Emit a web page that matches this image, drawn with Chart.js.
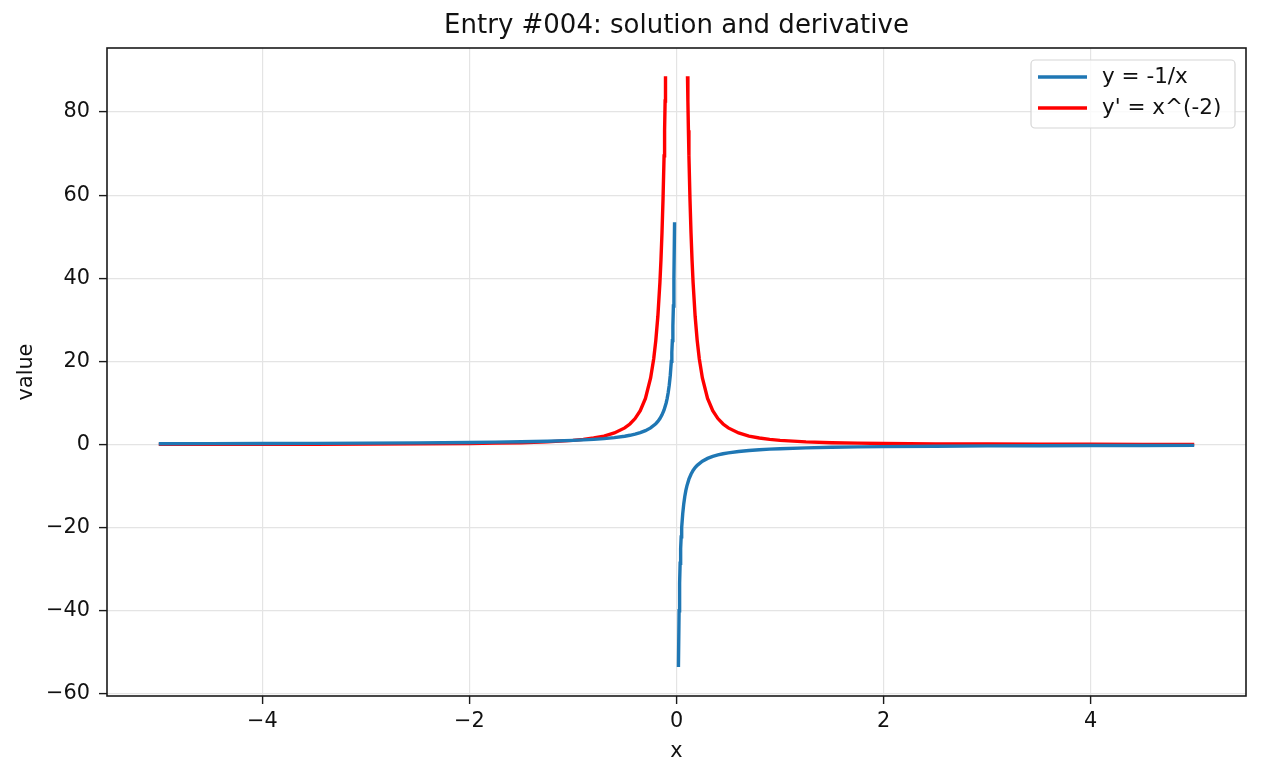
<!DOCTYPE html>
<html>
<head>
<meta charset="utf-8">
<script src="https://cdn.jsdelivr.net/npm/chart.js@4/dist/chart.umd.min.js"></script>
<style>
    body { margin: 0; background: #fff; }
    canvas { display: block; }
</style>
</head>
<body>
<canvas id="chartLines" width="1261" height="776"></canvas>
<script>
'use strict';

// values; null marks the break at x = 0
const blueX = [-5, -4.5, -4, -3.5, -3, -2.5, -2, -1.75, -1.5, -1.25, -1, -0.9, -0.8, -0.7, -0.6, -0.5, -0.45, -0.4, -0.35, -0.3, -0.25, -0.2, -0.18, -0.16, -0.14, -0.12, -0.1, -0.09, -0.08, -0.07, -0.06, -0.05, -0.045, -0.04, -0.035, -0.03, -0.025, -0.0187,
    0,
    0.0187, 0.025, 0.03, 0.035, 0.04, 0.045, 0.05, 0.06, 0.07, 0.08, 0.09, 0.1, 0.12, 0.14, 0.16, 0.18, 0.2, 0.25, 0.3, 0.35, 0.4, 0.45, 0.5, 0.6, 0.7, 0.8, 0.9, 1, 1.25, 1.5, 1.75, 2, 2.5, 3, 3.5, 4, 4.5, 5];
const blueY = [0.2, 0.222, 0.25, 0.286, 0.333, 0.4, 0.5, 0.571, 0.667, 0.8, 1.0, 1.111, 1.25, 1.429, 1.667, 2.0, 2.222, 2.5, 2.857, 3.333, 4.0, 5.0, 5.556, 6.25, 7.143, 8.333, 10, 11.11, 12.5, 14.29, 16.67, 20, 22.22, 25, 28.57, 33.33, 40, 53.5,
    null,
    -53.5, -40, -33.33, -28.57, -25, -22.22, -20, -16.67, -14.29, -12.5, -11.11, -10, -8.333, -7.143, -6.25, -5.556, -5.0, -4.0, -3.333, -2.857, -2.5, -2.222, -2.0, -1.667, -1.429, -1.25, -1.111, -1.0, -0.8, -0.667, -0.571, -0.5, -0.4, -0.333, -0.286, -0.25, -0.222, -0.2];

const redX = [-5, -4.5, -4, -3.5, -3, -2.5, -2, -1.75, -1.5, -1.25, -1, -0.9, -0.8, -0.7, -0.6, -0.5, -0.45, -0.4, -0.35, -0.3, -0.25, -0.22, -0.2, -0.18, -0.16, -0.15, -0.14, -0.13, -0.12, -0.115, -0.11, -0.1062,
    0,
    0.1062, 0.11, 0.115, 0.12, 0.13, 0.14, 0.15, 0.16, 0.18, 0.2, 0.22, 0.25, 0.3, 0.35, 0.4, 0.45, 0.5, 0.6, 0.7, 0.8, 0.9, 1, 1.25, 1.5, 1.75, 2, 2.5, 3, 3.5, 4, 4.5, 5];
const redY = [0.04, 0.049, 0.0625, 0.082, 0.111, 0.16, 0.25, 0.327, 0.444, 0.64, 1.0, 1.235, 1.5625, 2.041, 2.778, 4, 4.938, 6.25, 8.163, 11.11, 16, 20.66, 25, 30.86, 39.06, 44.44, 51.02, 59.17, 69.44, 75.61, 82.64, 88.6,
    null,
    88.6, 82.64, 75.61, 69.44, 59.17, 51.02, 44.44, 39.06, 30.86, 25, 20.66, 16, 11.11, 8.163, 6.25, 4.938, 4, 2.778, 2.041, 1.5625, 1.235, 1.0, 0.64, 0.444, 0.327, 0.25, 0.16, 0.111, 0.082, 0.0625, 0.049, 0.04];

const xTicks = [-4, -2, 0, 2, 4];
const yTicks = [-60, -40, -20, 0, 20, 40, 60, 80];

const seriesLabels = ['y = -1/x', "y' = x^(-2)"];
const seriesColors = ['#1f77b4', '#ff0000'];

const FONT = "'DejaVu Sans', sans-serif";

function toPoints(xs, ys) {
    return xs.map((x, i) => ({x: x, y: ys[i]}));
}

function fmtTick(v) {
    return v < 0 ? '\u2212' + Math.abs(v) : String(v);
}

const framePlugin = {
    id: 'frameAndLegend',
    afterDraw(chart) {
        const ctx = chart.ctx;
        const a = chart.chartArea;
        ctx.save();

        // axes frame
        ctx.strokeStyle = '#1a1a1a';
        ctx.lineWidth = 1.6;
        ctx.strokeRect(a.left, a.top, a.right - a.left, a.bottom - a.top);

        // title, centred on the plot area
        ctx.fillStyle = '#111';
        ctx.font = '26px ' + FONT;
        ctx.textAlign = 'center';
        ctx.textBaseline = 'alphabetic';
        ctx.fillText('Entry #004: solution and derivative', (a.left + a.right) / 2, 33);

        // legend box in the upper right corner
        const bx = 1031, by = 60, bw = 204, bh = 68, r = 4;
        ctx.beginPath();
        ctx.moveTo(bx + r, by);
        ctx.arcTo(bx + bw, by, bx + bw, by + bh, r);
        ctx.arcTo(bx + bw, by + bh, bx, by + bh, r);
        ctx.arcTo(bx, by + bh, bx, by, r);
        ctx.arcTo(bx, by, bx + bw, by, r);
        ctx.closePath();
        ctx.fillStyle = 'rgba(255,255,255,0.8)';
        ctx.fill();
        ctx.strokeStyle = '#d6d6d6';
        ctx.lineWidth = 1.2;
        ctx.stroke();

        ctx.font = '21.5px ' + FONT;
        ctx.textAlign = 'left';
        ctx.textBaseline = 'middle';
        seriesLabels.forEach((label, i) => {
            const y = 77 + i * 31;
            ctx.strokeStyle = seriesColors[i];
            ctx.lineWidth = 3.4;
            ctx.beginPath();
            ctx.moveTo(1038, y);
            ctx.lineTo(1087, y);
            ctx.stroke();
            ctx.fillStyle = '#111';
            ctx.fillText(label, 1102, y);
        });
        ctx.restore();
    }
};

const gridStyle = {
    color: '#e4e4e4',
    lineWidth: 1.2,
    tickColor: '#1a1a1a',
    tickLength: 8,
    tickWidth: 1.4
};

new Chart(document.getElementById('chartLines').getContext('2d'), {
    type: 'line',
    data: {
        datasets: [{
            label: seriesLabels[0],
            data: toPoints(blueX, blueY),
            borderColor: seriesColors[0],
            borderWidth: 3.4,
            pointRadius: 0,
            tension: 0,
            spanGaps: false
        }, {
            label: seriesLabels[1],
            data: toPoints(redX, redY),
            borderColor: seriesColors[1],
            borderWidth: 3.4,
            pointRadius: 0,
            tension: 0,
            spanGaps: false
        }]
    },
    options: {
        responsive: false,
        animation: false,
        layout: {padding: {top: 48, right: 15, left: 0, bottom: 0}},
        plugins: {
            legend: {display: false},
            title: {display: false},
            tooltip: {enabled: false}
        },
        scales: {
            x: {
                type: 'linear',
                min: -5.5,
                max: 5.5,
                afterFit: scale => { scale.height = 80; },
                afterBuildTicks: scale => { scale.ticks = xTicks.map(v => ({value: v})); },
                grid: gridStyle,
                border: {display: false},
                ticks: {
                    padding: 5,
                    color: '#111',
                    font: {family: FONT, size: 20.8},
                    callback: v => fmtTick(v)
                },
                title: {
                    display: true,
                    text: 'x',
                    color: '#111',
                    font: {family: FONT, size: 20.8},
                    padding: {top: 0, bottom: 12}
                }
            },
            y: {
                type: 'linear',
                min: -60.5,
                max: 95.4,
                afterFit: scale => { scale.width = 107; },
                afterBuildTicks: scale => { scale.ticks = yTicks.map(v => ({value: v})); },
                grid: gridStyle,
                border: {display: false},
                ticks: {
                    padding: 9,
                    color: '#111',
                    font: {family: FONT, size: 20.8},
                    callback: v => fmtTick(v)
                },
                title: {
                    display: true,
                    text: 'value',
                    color: '#111',
                    font: {family: FONT, size: 20.8},
                    padding: {top: 14, bottom: 0}
                }
            }
        }
    },
    plugins: [framePlugin]
});
</script>
</body>
</html>
